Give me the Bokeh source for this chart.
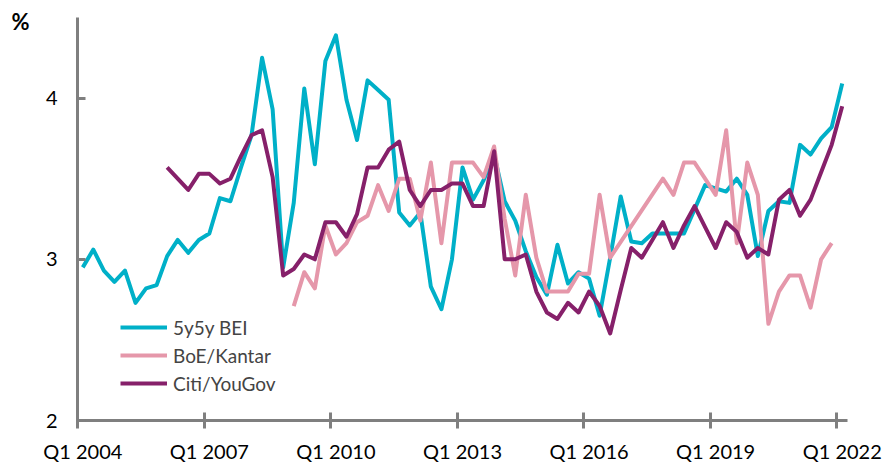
from bokeh.plotting import figure
from bokeh.models import Range1d, FixedTicker, Legend, LegendItem, LinearAxis
from bokeh.embed import file_html
from bokeh.resources import INLINE

# ---- data -------------------------------------------------------------
quarters = [f"Q{q} {y}" for y in range(2004, 2023) for q in range(1, 5)][:73]
tick_labels = ["Q1 2004", "Q1 2007", "Q1 2010", "Q1 2013", "Q1 2016", "Q1 2019", "Q1 2022"]
y_ticks = [2, 3, 4]
unit_label = "%"

bei = [2.95, 3.06, 2.93, 2.86, 2.93, 2.73, 2.82, 2.84, 3.02, 3.12,
       3.04, 3.12, 3.16, 3.38, 3.36, 3.57, 3.77, 4.25, 3.93, 2.95,
       3.35, 4.06, 3.59, 4.23, 4.39, 3.99, 3.74, 4.11, 4.05, 3.99,
       3.29, 3.21, 3.29, 2.83, 2.69, 3.00, 3.57, 3.37, 3.49, 3.65,
       3.36, 3.24, 3.05, 2.89, 2.78, 3.09, 2.85, 2.92, 2.88, 2.65,
       3.01, 3.39, 3.11, 3.10, 3.16, 3.16, 3.16, 3.16, 3.31, 3.46,
       3.44, 3.42, 3.50, 3.40, 3.02, 3.30, 3.36, 3.35, 3.71, 3.65,
       3.75, 3.82, 4.09]

boe = [None] * 20 + [
       2.71, 2.92, 2.82, 3.21, 3.03, 3.10, 3.23, 3.27, 3.46, 3.30,
       3.50, 3.50, 3.24, 3.60, 3.10, 3.60, 3.60, 3.60, 3.51, 3.70,
       3.25, 2.90, 3.40, 3.01, 2.80, 2.80, 2.80, 2.91, 2.91, 3.40,
       3.01, None, None, None, None, 3.50, 3.40, 3.60, 3.60, 3.50,
       3.40, 3.80, 3.10, 3.60, 3.40, 2.60, 2.80, 2.90, 2.90, 2.70,
       3.00, 3.10, None]

citi = [None] * 8 + [
        3.57, None, 3.43, 3.53, 3.53, 3.47, 3.50, 3.64, 3.77, 3.80,
        3.51, 2.90, 2.94, 3.03, 3.00, 3.23, 3.23, 3.14, 3.28, 3.57,
        3.57, 3.68, 3.73, 3.43, 3.33, 3.43, 3.43, 3.47, 3.47, 3.33,
        3.33, 3.67, 3.00, 3.00, 3.03, 2.80, 2.67, 2.63, 2.73, 2.67,
        2.80, 2.71, 2.54, 2.81, 3.07, 3.01, 3.12, 3.23, 3.07, 3.21,
        3.33, 3.20, 3.07, 3.23, 3.17, 3.01, 3.07, 3.03, 3.37, 3.43,
        3.27, 3.37, 3.54, 3.71, 3.95]

series_names = ["5y5y BEI", "BoE/Kantar", "Citi/YouGov"]
series_colors = ["#00B0C8", "#E597AA", "#86206A"]


def points(vals):
    xs = [quarters.index(q) + 0.5 for q, v in zip(quarters, vals) if v is not None]
    ys = [v for v in vals if v is not None]
    return xs, ys


# ---- figure -----------------------------------------------------------
FONT = "Lato"
GRAY = "#7F7F7F"
Y_MIN, Y_MAX = 2, 4.5

p = figure(width=884, height=465,
           x_range=Range1d(0, len(quarters)), y_range=Range1d(Y_MIN, Y_MAX),
           output_backend="svg", toolbar_location=None,
           min_border_left=77, min_border_right=37,
           min_border_top=17, min_border_bottom=44)
p.outline_line_color = None
p.xgrid.visible = False
p.ygrid.visible = False
p.background_fill_color = "white"
p.border_fill_color = "white"

renderers = []
for vals, name, col in zip([bei, boe, citi], series_names, series_colors):
    xs, ys = points(vals)
    r = p.line(xs, ys, line_color=col, line_width=4, line_join="round")
    renderers.append(r)

# x axis: ticks on category boundaries, labels at category centres
tick_idx = [quarters.index(t) for t in tick_labels]
xa = p.xaxis[0]
xa.ticker = FixedTicker(ticks=[i + 0.5 for i in tick_idx], minor_ticks=tick_idx)
xa.major_label_overrides = {i + 0.5: t for i, t in zip(tick_idx, tick_labels)}
xa.axis_line_color = GRAY
xa.axis_line_width = 3
xa.major_tick_line_color = None
xa.major_tick_in = 0
xa.major_tick_out = 0
xa.minor_tick_line_color = GRAY
xa.minor_tick_line_width = 3
xa.minor_tick_in = 8
xa.minor_tick_out = 8
xa.major_label_standoff = 10
xa.major_label_text_font = FONT
xa.major_label_text_font_size = "20px"
xa.major_label_text_color = "black"

ya = p.yaxis[0]
ya.ticker = FixedTicker(ticks=y_ticks, minor_ticks=[])
ya.axis_line_color = GRAY
ya.axis_line_width = 3
ya.major_tick_line_color = GRAY
ya.major_tick_line_width = 3
ya.major_tick_in = 8
ya.major_tick_out = 0
ya.minor_tick_line_color = None
ya.major_label_standoff = 20
ya.major_label_text_font = FONT
ya.major_label_text_font_size = "20px"
ya.major_label_text_color = "black"

# unit label "%" at top-left, drawn as a label-only axis outside the frame
unit_pos = Y_MAX - 0.025
ua = LinearAxis(ticker=FixedTicker(ticks=[unit_pos], minor_ticks=[]),
                major_label_overrides={unit_pos: unit_label},
                axis_line_color=None, major_tick_line_color=None,
                minor_tick_line_color=None, major_tick_in=0, major_tick_out=0,
                major_label_standoff=13, major_label_text_font=FONT,
                major_label_text_font_style="bold",
                major_label_text_font_size="22px",
                major_label_text_color="black")
p.add_layout(ua, "left")

legend = Legend(items=[LegendItem(label=n, renderers=[r]) for n, r in zip(series_names, renderers)],
                location=(43, 23), glyph_width=47, glyph_height=28, label_height=28,
                spacing=0, padding=0, margin=0, label_standoff=6,
                label_text_font=FONT, label_text_font_size="19px",
                border_line_alpha=0, background_fill_alpha=0)
p.add_layout(legend)

open("out.html", "w").write(file_html(p, INLINE))
